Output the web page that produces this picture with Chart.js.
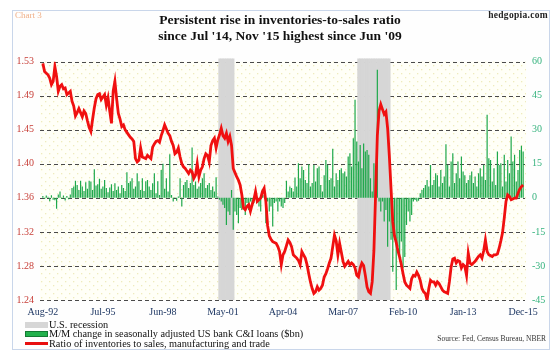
<!DOCTYPE html>
<html><head><meta charset="utf-8">
<script src="https://cdn.jsdelivr.net/npm/chart.js@4.4.1/dist/chart.umd.min.js"></script>
<style>
html,body{margin:0;padding:0;background:#fff;}
#wrap{position:relative;width:560px;height:356px;overflow:hidden;font-family:'Liberation Serif','Times New Roman',serif;}
#frame{position:absolute;left:12px;top:10px;width:536px;height:338px;border:1px solid #c9d6ea;background:#fefefe;}
canvas{position:absolute;left:0;top:0;}
.note{position:absolute;white-space:nowrap;}
#chartno{left:15px;top:10px;font-size:9px;color:#f0b088;}
#brand{right:12px;top:10px;font-size:9.5px;font-weight:bold;color:#222;letter-spacing:0.3px;}
#source{right:14px;top:334px;font-size:7.5px;color:#333;}
#legend{position:absolute;left:25px;top:320px;font-size:10.3px;color:#111;}
.row{height:9.6px;line-height:10px;white-space:nowrap;display:flex;align-items:center;}
.sw{display:inline-block;width:23px;margin-right:1px;box-sizing:border-box;}
</style></head>
<body>
<div id="wrap">
  <div id="frame"></div>
  <canvas id="c" width="560" height="356"></canvas>
  <div class="note" id="chartno">Chart 3</div>
  <div class="note" id="brand">hedgopia.com</div>
  <div class="note" id="source">Source: Fed, Census Bureau, NBER</div>
  <div id="legend">
    <div class="row"><span class="sw" style="height:6px;background:#d6d6d6"></span>U.S. recession</div>
    <div class="row"><span class="sw" style="height:6px;background:#22b14c;border:1px solid #137a33"></span>M/M change in seasonally adjusted US bank C&amp;I loans ($bn)</div>
    <div class="row"><span class="sw" style="height:3px;background:#e81010"></span>Ratio of inventories to sales, manufacturing and trade</div>
  </div>
</div>
<script>
const SERIF = "'Liberation Serif','Times New Roman',serif";
const titleLines = ["Persistent rise in inventories-to-sales ratio", "since Jul '14, Nov '15 highest since Jun '09"];
const firstMonth = {year: 1992, month: 8};
const lastMonth = {year: 2015, month: 12};
const xTickLabels = ['Aug-92','Jul-95','Jun-98','May-01','Apr-04','Mar-07','Feb-10','Jan-13','Dec-15'];
const leftTicks = ['1.24','1.28','1.32','1.36','1.40','1.45','1.49','1.53'];
const rightTicks = [-45,-30,-15,0,15,30,45,60];
const recessions = [['Mar-01','Nov-01'],['Dec-07','Jun-09']];

// Ratio of inventories to sales (monthly, Aug-92 .. Dec-15)
const ratio = [
1.528,1.518,1.516,1.514,1.510,1.502,1.506,1.524,1.512,1.494,1.500,1.502,
1.497,1.498,1.490,1.492,1.494,1.482,1.476,1.464,1.468,1.473,1.468,1.463,
1.470,1.467,1.458,1.450,1.445,1.460,1.474,1.485,1.490,1.491,1.484,1.487,
1.490,1.477,1.486,1.470,1.455,1.494,1.506,1.485,1.467,1.460,1.451,1.453,
1.447,1.444,1.441,1.438,1.436,1.433,1.412,1.408,1.410,1.425,1.414,1.413,
1.412,1.416,1.414,1.412,1.426,1.430,1.433,1.434,1.432,1.440,1.446,1.453,
1.448,1.443,1.440,1.433,1.428,1.418,1.420,1.425,1.414,1.406,1.402,1.400,
1.397,1.394,1.398,1.396,1.388,1.392,1.406,1.390,1.398,1.402,1.412,1.418,
1.416,1.408,1.428,1.434,1.437,1.425,1.435,1.441,1.449,1.440,1.437,1.443,
1.433,1.439,1.428,1.400,1.395,1.390,1.386,1.380,1.368,1.352,1.350,1.354,
1.356,1.348,1.356,1.362,1.372,1.360,1.362,1.364,1.372,1.376,1.360,1.331,
1.318,1.314,1.311,1.310,1.309,1.305,1.299,1.283,1.295,1.299,1.306,1.313,
1.310,1.305,1.295,1.293,1.291,1.288,1.283,1.299,1.295,1.291,1.283,1.272,
1.262,1.254,1.248,1.250,1.256,1.252,1.254,1.258,1.268,1.272,1.278,1.285,
1.291,1.305,1.319,1.312,1.295,1.309,1.298,1.287,1.281,1.284,1.287,1.283,
1.285,1.283,1.279,1.270,1.268,1.279,1.285,1.282,1.270,1.256,1.250,1.248,
1.262,1.300,1.370,1.440,1.470,1.478,1.472,1.466,1.469,1.449,1.415,1.375,
1.335,1.318,1.310,1.300,1.292,1.283,1.272,1.262,1.258,1.256,1.254,1.266,
1.270,1.269,1.274,1.270,1.264,1.254,1.250,1.248,1.240,1.254,1.264,1.262,
1.262,1.258,1.262,1.260,1.256,1.252,1.250,1.249,1.248,1.262,1.280,1.290,
1.291,1.285,1.288,1.287,1.279,1.283,1.281,1.270,1.297,1.285,1.283,1.285,
1.287,1.290,1.293,1.295,1.291,1.300,1.313,1.299,1.295,1.294,1.293,1.295,
1.295,1.296,1.303,1.312,1.322,1.340,1.360,1.368,1.366,1.362,1.363,1.364,
1.364,1.370,1.375,1.378,1.380
];

// M/M change in seasonally adjusted US bank C&I loans ($bn)
const loans = [
0.8,-0.5,1.0,0.5,-1.5,1.2,-0.8,-1.0,-4.8,1.5,2.8,-0.5,
1.0,-1.2,0.8,-0.6,1.5,4.3,5.0,7.5,5.7,3.5,7.5,5.0,
3.0,6.9,4.0,7.5,7.2,3.5,12.6,5.5,6.0,8.4,4.0,5.0,
7.9,4.3,2.5,4.6,6.0,3.0,6.4,3.5,5.0,2.0,5.7,4.3,
3.0,11.3,6.5,7.3,8.7,4.0,5.0,10.9,7.3,3.5,8.7,3.0,
7.3,7.9,5.0,3.5,6.4,10.9,2.0,7.3,1.3,12.3,15.0,4.0,
8.7,2.8,19.2,1.3,-1.6,0.3,-1.3,0.6,8.7,-3.8,5.7,7.0,
7.9,4.3,6.5,22.2,5.7,7.2,4.0,5.0,6.5,8.7,10.9,4.3,
5.7,6.5,3.5,5.0,2.8,9.1,0.6,-0.8,-1.6,-3.0,-4.5,-11.9,
-6.0,-7.5,3.5,-14.0,-6.0,-7.5,-11.2,-4.5,-5.3,-3.0,-7.5,-2.3,
-5.3,-1.6,-3.0,-2.3,1.3,-1.6,-3.8,-6.0,3.5,1.3,-11.2,-1.6,
-6.0,-3.8,-12.6,-2.3,-1.6,-6.0,-1.6,-3.8,-4.5,-2.3,7.5,2.8,
5.0,4.3,2.8,9.0,5.0,15.3,8.7,13.8,12.3,7.9,6.5,14.8,
5.0,6.5,14.5,7.2,13.0,13.8,5.7,2.8,10.0,16.7,14.5,7.9,
8.7,21.6,5.0,10.9,7.9,12.3,13.0,10.9,11.6,9.4,18.2,19.7,
13.8,26.3,43.2,24.8,16.0,23.3,13.0,24.0,20.4,21.1,19.0,8.7,
2.8,15.3,5.0,56.4,-1.6,-6.0,-1.6,-10.4,-5.3,-21.5,-10.4,-18.5,
-32.5,-16.3,-40.6,-21.5,-28.0,-19.2,-31.0,-26.0,-12.0,-6.0,-10.4,-7.5,
-1.6,-0.9,-1.6,-1.3,2.0,3.5,4.3,5.7,7.9,5.0,14.5,5.7,
7.9,10.9,10.0,5.0,12.3,6.5,9.4,23.6,14.5,5.0,16.0,19.7,
6.5,10.9,16.0,8.7,18.2,11.6,10.0,6.5,7.9,10.0,11.6,6.5,
9.4,5.0,10.9,13.0,9.4,14.5,7.9,36.6,17.5,16.7,7.2,13.0,
5.7,20.4,14.5,15.3,5.0,19.0,7.2,16.7,10.9,27.0,16.0,19.0,
7.2,12.3,21.1,23.0,20.4
];

const MON = ['Jan','Feb','Mar','Apr','May','Jun','Jul','Aug','Sep','Oct','Nov','Dec'];
const months = [];
for (let y = firstMonth.year, m = firstMonth.month; y < lastMonth.year || (y === lastMonth.year && m <= lastMonth.month); ) {
  months.push(MON[m-1] + '-' + String(y % 100).padStart(2,'0'));
  m++; if (m > 12) { m = 1; y++; }
}
const recData = months.map(() => null);
recessions.forEach(([a,b]) => {
  const i0 = months.indexOf(a), i1 = months.indexOf(b);
  for (let i = i0; i <= i1; i++) recData[i] = 1.012;
});

let pattern = null;
const plotBg = {
  id: 'plotbg',
  beforeDraw(chart) {
    const {ctx, chartArea: a} = chart;
    if (!pattern) {
      const c = document.createElement('canvas'); c.width = 8; c.height = 8;
      const p = c.getContext('2d');
      p.fillStyle = '#fffff7'; p.fillRect(0,0,8,8);
      p.fillStyle = '#eeebbd'; p.fillRect(1,1,1.3,1.3); p.fillRect(5,5,1.3,1.3);
      pattern = ctx.createPattern(c, 'repeat');
    }
    ctx.save(); ctx.fillStyle = pattern;
    ctx.fillRect(a.left - 2, a.top, a.right - a.left + 4, a.bottom - a.top);
    ctx.restore();
  },
  // dashed horizontal grid lines at the left-axis ticks
  beforeDatasetsDraw(chart) {
    const {ctx, chartArea: a} = chart;
    const s = chart.scales.yL;
    ctx.save();
    ctx.strokeStyle = '#4a4a4a'; ctx.lineWidth = 1; ctx.setLineDash([4,3]);
    s.ticks.forEach(t => {
      const y = Math.round(s.getPixelForValue(t.value)) + 0.5;
      ctx.beginPath(); ctx.moveTo(a.left - 2, y); ctx.lineTo(a.right + 1, y); ctx.stroke();
    });
    ctx.restore();
  }
};

const lMin = parseFloat(leftTicks[0]), lMax = parseFloat(leftTicks[leftTicks.length-1]);
new Chart(document.getElementById('c'), {
  type: 'bar',
  data: {
    labels: months,
    datasets: [
      {type:'line', label:'Ratio of inventories to sales, manufacturing and trade', data: ratio, yAxisID:'yL',
       borderColor:'#f01010', borderWidth:2.8, pointRadius:0, tension:0, order:1},
      {type:'bar', label:'M/M change in seasonally adjusted US bank C&I loans ($bn)', data: loans, yAxisID:'yR',
       backgroundColor:'#1ea84b', borderWidth:0, barPercentage:0.7, categoryPercentage:1, grouped:false, order:2},
      {type:'bar', label:'U.S. recession', data: recData, yAxisID:'yRec',
       backgroundColor:'#d6d6d6', borderWidth:0, barPercentage:1, categoryPercentage:1, grouped:false, order:3,
       clip:{left:0, top:5, right:0, bottom:0}}
    ]
  },
  options: {
    responsive:false, animation:false, devicePixelRatio:1,
    layout:{padding:0},
    plugins:{
      legend:{display:false}, tooltip:{enabled:false},
      title:{display:true, text:titleLines, color:'#111',
        font:{family:SERIF, size:13.5, weight:'bold', lineHeight:'16px'}, padding:{top:13, bottom:16.7}}
    },
    scales:{
      x:{type:'category', offset:true, grid:{display:false, drawTicks:false}, border:{display:false},
        ticks:{autoSkip:false, maxRotation:0, minRotation:0, padding:6, color:'#1f3864',
          font:{family:SERIF, size:10},
          callback(v, i){ const l = months[i]; return xTickLabels.includes(l) ? l : ''; }},
        afterFit(s){ s.height = 56; }},
      yL:{type:'linear', position:'left', min:lMin, max:lMax,
        afterBuildTicks(s){ s.ticks = leftTicks.map((t,k) => ({value: lMin + k*(lMax-lMin)/(leftTicks.length-1)})); },
        ticks:{color:'#c8403a', font:{family:SERIF, size:10}, padding:8, callback(v,i){ return leftTicks[i]; }},
        grid:{display:false, drawTicks:false},
        border:{display:false},
        afterFit(s){ s.width = 42; }},
      yR:{type:'linear', position:'right', min:rightTicks[0], max:rightTicks[rightTicks.length-1],
        afterBuildTicks(s){ s.ticks = rightTicks.map(v => ({value:v})); },
        ticks:{color:'#36b37e', font:{family:SERIF, size:10}, padding:8},
        grid:{display:false, drawTicks:false}, border:{display:false},
        afterFit(s){ s.width = 36; }},
      yRec:{type:'linear', display:false, min:0, max:1}
    }
  },
  plugins:[plotBg]
});
</script>
</body></html>
